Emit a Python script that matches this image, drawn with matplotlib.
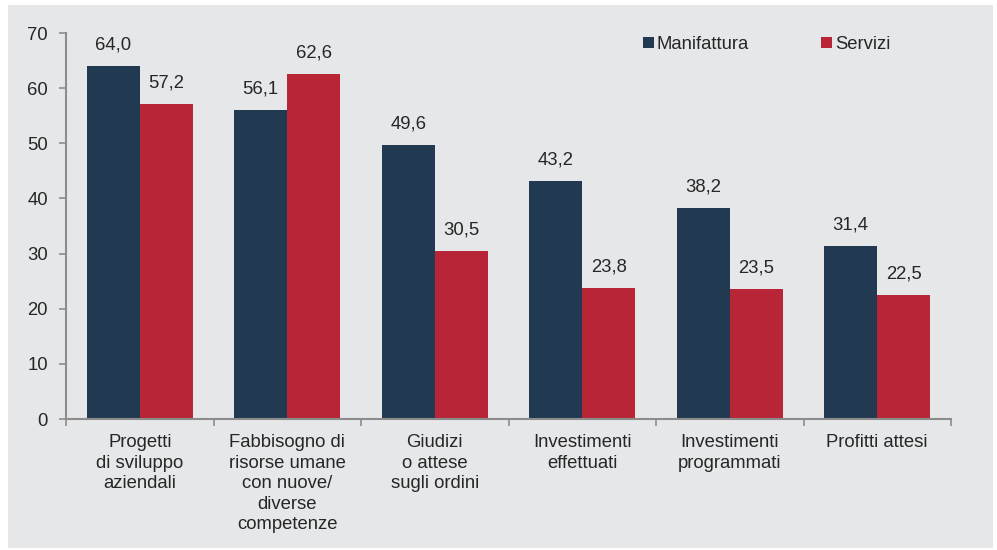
import matplotlib
matplotlib.use("Agg")
import matplotlib.pyplot as plt
import matplotlib.patches as mpatches
import numpy as np

categories = [
    "Progetti\ndi sviluppo\naziendali",
    "Fabbisogno di\nrisorse umane\ncon nuove/\ndiverse\ncompetenze",
    "Giudizi\no attese\nsugli ordini",
    "Investimenti\neffettuati",
    "Investimenti\nprogrammati",
    "Profitti attesi",
]
manifattura = [64.0, 56.1, 49.6, 43.2, 38.2, 31.4]
servizi = [57.2, 62.6, 30.5, 23.8, 23.5, 22.5]
series_names = ["Manifattura", "Servizi"]

navy = "#213a52"
red = "#b82536"
bg = "#e6e7e9"
text_col = "#262626"
axis_col = "#8c8c8c"
fs = 13.3

plt.rcParams["font.family"] = ["Liberation Sans", "DejaVu Sans"]

fig = plt.figure(figsize=(9.97, 5.5), dpi=100)
fig.patch.set_facecolor("white")
fig.patches.append(mpatches.Rectangle((8 / 997, 1 - 548 / 550), 985 / 997, 543 / 550,
                                      transform=fig.transFigure, facecolor=bg,
                                      edgecolor="none", zorder=-10))

ax = fig.add_axes([66 / 997, 1 - 419 / 550, 885 / 997, 386 / 550])
ax.set_facecolor("none")

x = np.arange(len(categories))
w = 0.36
b1 = ax.bar(x - w / 2, manifattura, w, color=navy, label=series_names[0])
b2 = ax.bar(x + w / 2, servizi, w, color=red, label=series_names[1])

for bars, vals in ((b1, manifattura), (b2, servizi)):
    for r, v in zip(bars, vals):
        ax.annotate(f"{v:.1f}".replace(".", ","),
                    (r.get_x() + r.get_width() / 2, v),
                    xytext=(0, 9), textcoords="offset points",
                    ha="center", va="bottom", fontsize=fs, color=text_col)

ax.set_xlim(-0.5, len(categories) - 0.5)
ax.set_ylim(0, 70)
ax.set_yticks(range(0, 71, 10))
ax.tick_params(axis="y", length=5, width=1.2, color=axis_col, labelsize=fs,
               labelcolor=text_col, pad=8)

ax.set_xticks(x)
ax.set_xticklabels(categories, fontsize=fs, color=text_col, linespacing=1.27)
ax.set_xticks(np.arange(-0.5, len(categories), 1.0), minor=True)
ax.tick_params(axis="x", which="major", length=0, pad=11)
ax.tick_params(axis="x", which="minor", length=5, width=1.2, color=axis_col)
for lbl in ax.get_xticklabels():
    lbl.set_verticalalignment("top")
    lbl.set_multialignment("center")

for s in ("top", "right"):
    ax.spines[s].set_visible(False)
for s in ("left", "bottom"):
    ax.spines[s].set_color(axis_col)
    ax.spines[s].set_linewidth(1.5)

leg = ax.legend(loc="upper left", bbox_to_anchor=(0.633, 1.035), ncol=2, frameon=False,
                fontsize=fs, handlelength=0.6, handleheight=0.6, handletextpad=0.15,
                columnspacing=3.9, labelcolor=text_col)

fig.savefig("out.png", dpi=100, facecolor="white")
